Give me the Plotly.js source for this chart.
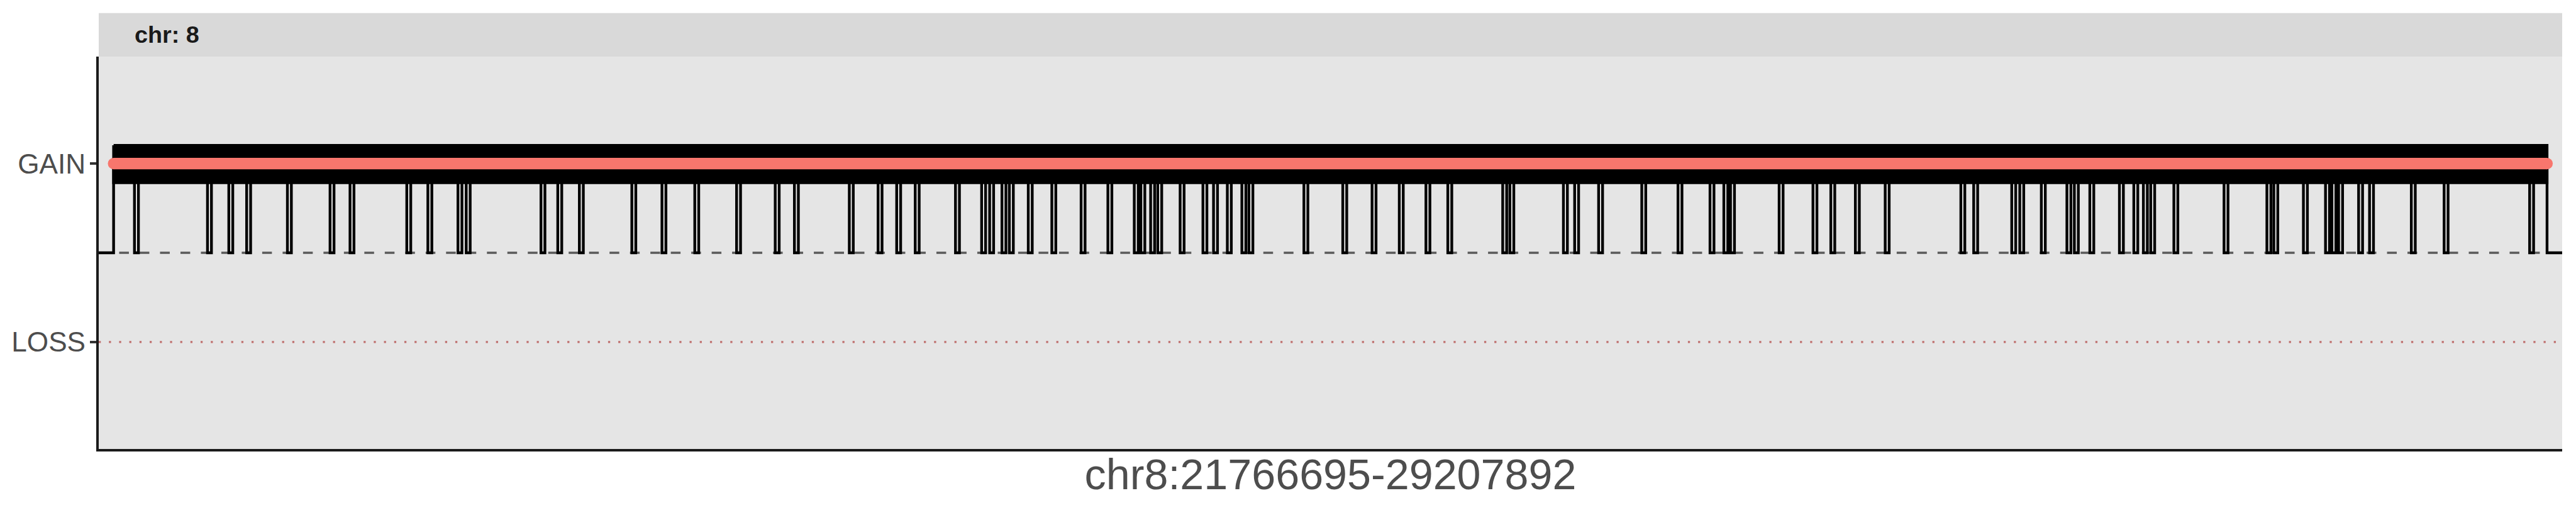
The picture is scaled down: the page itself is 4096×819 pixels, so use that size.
<!DOCTYPE html>
<html>
<head>
<meta charset="utf-8">
<script src="https://cdn.plot.ly/plotly-3.0.1.min.js"></script>
<style>html,body{margin:0;padding:0;background:#fff;}#chart{width:4096px;height:819px;}</style>
</head>
<body>
<div id="chart"></div>
<script>
// ---- data ----
const regionLabel = 'chr8:21766695-29207892';
const facetLabel = 'chr: 8';
const regionStart = 21766695;
const regionEnd = 29207892;
const stateLabels = ['GAIN', 'LOSS'];
const stateValues = [1, -1];
const neutralValue = 0;
const gainStart = 21811600;
const gainEnd = 29162200;
const signalHigh = 1.205;
const signalLow = 0.785;
const gapStart = [21874600,22095200,22159600,22213500,22336600,22465400,22525700,22697200,22760900,22851800,
  22876700,23102500,23153300,23218500,23377000,23468000,23567100,23693400,23810100,23868100,
  24033900,24120800,24177000,24233000,24354600,24433600,24457800,24495000,24517400,24574500,
  24645700,24734100,24815000,24894700,24914600,24944100,24965600,25033200,25102100,25134100,
  25175800,25219700,25241000,25407100,25524500,25613000,25695200,25775700,25841800,26007600,
  26029200,26191000,26224900,26297300,26427700,26537100,26633800,26675600,26695700,26842600,
  26944800,26998700,27072900,27163000,27391500,27430300,27545200,27569500,27634600,27711900,
  27734400,27781100,27870500,27914000,27942900,27965000,28035000,28186500,28316000,28336900,
  28426300,28493000,28512400,28532600,28593000,28626000,28752200,28851300,29109600];
const gapEnd = [21886600,22107200,22171600,22225500,22348600,22477400,22537700,22709200,22772900,22863800,
  22888700,23114500,23165300,23230500,23389000,23480000,23579100,23705400,23822100,23880100,
  24045900,24132800,24189000,24245000,24366600,24445600,24469800,24507000,24529400,24586500,
  24657700,24746100,24827000,24906700,24926600,24956100,24977600,25045200,25114100,25146100,
  25187800,25231700,25253000,25419100,25536500,25625000,25707200,25787700,25853800,26019600,
  26041200,26203000,26236900,26309300,26439700,26549100,26645800,26687600,26707700,26854600,
  26956800,27010700,27084900,27175000,27403500,27442300,27557200,27581500,27646600,27723900,
  27746400,27793100,27882500,27926000,27954900,27977000,28047000,28198500,28328000,28348900,
  28438300,28505000,28524400,28544600,28605000,28638000,28764200,28863300,29121600];

// ---- build step series ----
const stepX = [regionStart, gainStart];
const stepY = [neutralValue, stateValues[0]];
for (let i = 0; i < gapStart.length; i++) {
  stepX.push(gapStart[i], gapEnd[i]);
  stepY.push(neutralValue, stateValues[0]);
}
stepX.push(gainEnd, regionEnd);
stepY.push(neutralValue, neutralValue);

const S = 0.91;
const FONT = 'Liberation Sans, Arial, Helvetica, sans-serif';

const traces = [
  { // neutral baseline
    type: 'scatter', mode: 'lines', x: [regionStart, regionEnd], y: [neutralValue, neutralValue],
    line: {color: '#5a5a5a', width: 4 * S, dash: (17 * S) + 'px,' + (18.7 * S) + 'px'}, hoverinfo: 'skip'
  },
  { // loss threshold
    type: 'scatter', mode: 'lines', x: [regionStart, regionEnd], y: [stateValues[1], stateValues[1]],
    line: {color: '#bf6f6d', width: 3.6 * S, dash: (3.6 * S) + 'px,' + (14.2 * S) + 'px'}, hoverinfo: 'skip'
  },
  { // copy-number step line
    type: 'scatter', mode: 'lines', x: stepX, y: stepY,
    line: {color: '#000000', width: 4.8 * S, shape: 'hv'}, hoverinfo: 'skip'
  },
  { // dense signal band
    type: 'scatter', mode: 'lines',
    x: [gainStart, gainEnd, gainEnd, gainStart, gainStart],
    y: [signalHigh, signalHigh, signalLow, signalLow, signalHigh],
    fill: 'toself', fillcolor: '#000000',
    line: {color: '#000000', width: 4.8 * S}, hoverinfo: 'skip'
  },
  { // gain segment
    type: 'scatter', mode: 'lines+markers', x: [gainStart, gainEnd], y: [stateValues[0], stateValues[0]],
    line: {color: '#F8766D', width: 20 * S},
    marker: {color: '#F8766D', size: 20 * S, line: {width: 0}}, hoverinfo: 'skip'
  }
];

const plotL = 173 * S, plotR = 4477 * S, plotT = 99 * S, plotB = 785 * S;
const plotH = plotB - plotT, plotW = plotR - plotL;

const layout = {
  width: 4096, height: 819,
  margin: {l: plotL, r: 4096 - plotR, t: plotT, b: 819 - plotB, pad: 0},
  paper_bgcolor: '#ffffff', plot_bgcolor: '#e5e5e5',
  showlegend: false, hovermode: false,
  font: {family: FONT, color: '#4d4d4d'},
  xaxis: {
    range: [regionStart, regionEnd], showticklabels: false, ticks: '',
    showgrid: false, zeroline: false, showline: true, linecolor: '#1a1a1a', linewidth: 4 * S,
    title: {text: regionLabel, font: {family: FONT, size: 75 * S, color: '#4d4d4d'}, standoff: 14}
  },
  yaxis: {
    range: [-2.2, 2.2], tickvals: stateValues, ticktext: stateLabels,
    ticks: 'outside', ticklen: 11.5 * S, tickwidth: 4 * S, tickcolor: '#333333',
    tickfont: {family: FONT, size: 48.5 * S, color: '#4d4d4d'},
    ticklabelstandoff: -2,
    showgrid: false, zeroline: false, showline: true, linecolor: '#1a1a1a', linewidth: 4 * S
  },
  shapes: [{
    type: 'rect', xref: 'paper', yref: 'paper', x0: 0, x1: 1,
    y0: 1, y1: 1 + (99 - 23) * S / plotH, fillcolor: '#d9d9d9', line: {width: 0}, layer: 'below'
  }],
  annotations: [{
    xref: 'paper', yref: 'paper', x: (233 * S - plotL) / plotW, xanchor: 'left',
    y: 1 + (99 - 61) * S / plotH, yanchor: 'middle', showarrow: false,
    text: '<b>' + facetLabel + '</b>', font: {family: FONT, size: 41.5 * S, color: '#1a1a1a'}
  }]
};

Plotly.newPlot('chart', traces, layout, {staticPlot: true, displayModeBar: false});
</script>
</body>
</html>
